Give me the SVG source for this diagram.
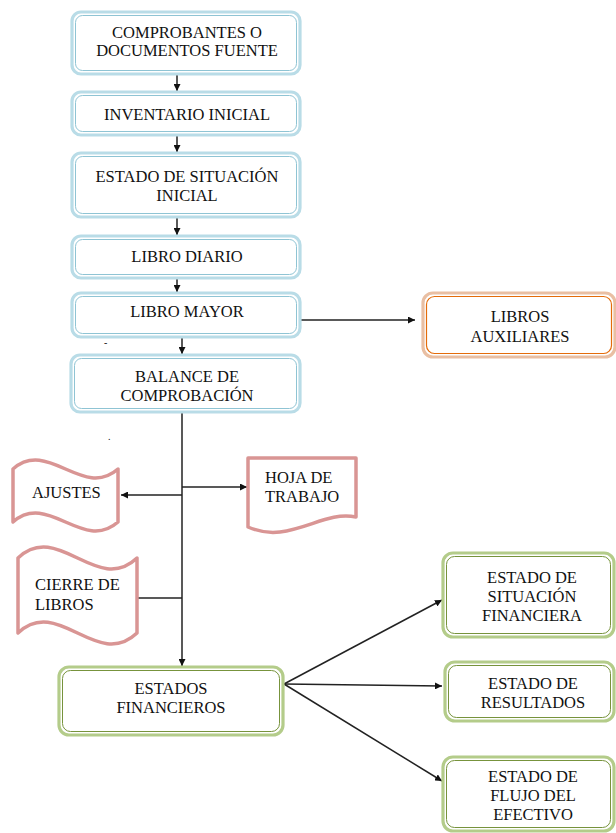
<svg xmlns="http://www.w3.org/2000/svg" width="616" height="833" viewBox="0 0 616 833">
<style>
.bo{fill:#fff;stroke:#b9dce7;stroke-width:3.2}
.bi{fill:none;stroke:#8fc4d4;stroke-width:1}
.go{fill:#fff;stroke:#b4cc8a;stroke-width:3.2}
.gi{fill:none;stroke:#77933c;stroke-width:1}
.oo{fill:#fff;stroke:#e9bfa3;stroke-width:3.2}
.oi{fill:none;stroke:#e46c0a;stroke-width:1.2}
.pk{fill:#fff;stroke:#d99594;stroke-width:3.5;stroke-linejoin:round}
text{font-family:"Liberation Serif","Times New Roman",serif;font-size:16.5px;fill:#111}
.c{text-anchor:middle}
.ln{stroke:#222;stroke-width:1.5;fill:none}
</style>
<defs>
<marker id="ah" viewBox="0 0 10 10" refX="10" refY="5" markerWidth="7" markerHeight="7" markerUnits="userSpaceOnUse" orient="auto">
<path d="M0,0 L10,5 L0,10 Z" fill="#111"/>
</marker>
</defs>
<g id="connectors">
<line class="ln" x1="177" y1="74" x2="177" y2="91" marker-end="url(#ah)"/>
<line class="ln" x1="177" y1="135" x2="177" y2="152" marker-end="url(#ah)"/>
<line class="ln" x1="177" y1="217" x2="177" y2="235" marker-end="url(#ah)"/>
<line class="ln" x1="177" y1="278" x2="177" y2="292" marker-end="url(#ah)"/>
<line class="ln" x1="182" y1="337" x2="182" y2="354" marker-end="url(#ah)"/>
<line class="ln" x1="301" y1="320" x2="415" y2="320" marker-end="url(#ah)"/>
<line class="ln" x1="182" y1="412" x2="182" y2="666" marker-end="url(#ah)"/>
<line class="ln" x1="182" y1="487" x2="247" y2="487" marker-end="url(#ah)"/>
<line class="ln" x1="182" y1="495" x2="121" y2="495" marker-end="url(#ah)"/>
<line class="ln" x1="137" y1="598" x2="182" y2="598"/>
<line class="ln" x1="284" y1="684" x2="442" y2="600" marker-end="url(#ah)"/>
<line class="ln" x1="284" y1="684" x2="442" y2="686" marker-end="url(#ah)"/>
<line class="ln" x1="284" y1="684" x2="442" y2="781" marker-end="url(#ah)"/>
</g>
<g id="n1">
<rect class="bo" x="72" y="12" width="228" height="62" rx="9"/>
<rect class="bi" x="75.5" y="15.5" width="221" height="55" rx="7"/>
<text class="c" x="187" y="37.5">COMPROBANTES O</text>
<text class="c" x="187" y="56">DOCUMENTOS FUENTE</text>
</g>
<g id="n2">
<rect class="bo" x="72" y="92" width="228" height="43" rx="9"/>
<rect class="bi" x="75.5" y="95.5" width="221" height="36" rx="7"/>
<text class="c" x="187" y="120">INVENTARIO INICIAL</text>
</g>
<g id="n3">
<rect class="bo" x="72" y="153" width="228" height="64" rx="9"/>
<rect class="bi" x="75.5" y="156.5" width="221" height="57" rx="7"/>
<text class="c" x="187" y="182">ESTADO DE SITUACIÓN</text>
<text class="c" x="187" y="200.5">INICIAL</text>
</g>
<g id="n4">
<rect class="bo" x="72" y="236" width="228" height="42" rx="9"/>
<rect class="bi" x="75.5" y="239.5" width="221" height="35" rx="7"/>
<text class="c" x="187" y="262">LIBRO DIARIO</text>
</g>
<g id="n5">
<rect class="bo" x="72" y="293" width="228" height="44" rx="9"/>
<rect class="bi" x="75.5" y="296.5" width="221" height="37" rx="7"/>
<text class="c" x="187" y="317">LIBRO MAYOR</text>
</g>
<g id="n6">
<rect class="bo" x="71" y="355" width="229" height="57" rx="9"/>
<rect class="bi" x="74.5" y="358.5" width="222" height="50" rx="7"/>
<text class="c" x="187" y="382">BALANCE DE</text>
<text class="c" x="187" y="400.5">COMPROBACIÓN</text>
</g>
<g id="n7">
<rect class="oo" x="423" y="293" width="192" height="64" rx="10"/>
<rect class="oi" x="426.5" y="296.5" width="185" height="57" rx="8"/>
<text class="c" x="520" y="322">LIBROS</text>
<text class="c" x="520" y="342">AUXILIARES</text>
</g>
<g id="n8">
<path class="pk" d="M13,469 C48,438 83,500 118,469 L118,522 C83,553 48,491 13,522 Z"/>
<text x="32" y="498">AJUSTES</text>
</g>
<g id="n9">
<path class="pk" d="M248,458 L356,458 L356,517 C330,512 310,528 280,532 C265,534 255,530 248,527 Z"/>
<text x="265" y="483">HOJA DE</text>
<text x="265" y="502">TRABAJO</text>
</g>
<g id="n10">
<path class="pk" d="M18,558 C58,520 97,596 137,558 L137,633 C97,671 58,595 18,633 Z"/>
<text x="35" y="590">CIERRE DE</text>
<text x="35" y="610">LIBROS</text>
</g>
<g id="n11">
<rect class="go" x="59" y="667" width="224" height="68" rx="10"/>
<rect class="gi" x="62.5" y="670.5" width="217" height="61" rx="8"/>
<text class="c" x="171" y="694">ESTADOS</text>
<text class="c" x="171" y="713">FINANCIEROS</text>
</g>
<g id="n12">
<rect class="go" x="443" y="553" width="171" height="84" rx="10"/>
<rect class="gi" x="446.5" y="556.5" width="164" height="77" rx="8"/>
<text class="c" x="532" y="583">ESTADO DE</text>
<text class="c" x="532" y="602">SITUACIÓN</text>
<text class="c" x="532" y="621">FINANCIERA</text>
</g>
<g id="n13">
<rect class="go" x="445" y="662" width="169" height="59" rx="10"/>
<rect class="gi" x="448.5" y="665.5" width="162" height="52" rx="8"/>
<text class="c" x="533" y="689">ESTADO DE</text>
<text class="c" x="533" y="708">RESULTADOS</text>
</g>
<g id="n14">
<rect class="go" x="443" y="757" width="171" height="74" rx="10"/>
<rect class="gi" x="446.5" y="760.5" width="164" height="67" rx="8"/>
<text class="c" x="533" y="782">ESTADO DE</text>
<text class="c" x="533" y="801">FLUJO DEL</text>
<text class="c" x="533" y="820">EFECTIVO</text>
</g>
<g id="marks">
<text x="104" y="346" style="font-size:10px">-</text>
<text x="108" y="440" style="font-size:10px">.</text>
</g>
</svg>
